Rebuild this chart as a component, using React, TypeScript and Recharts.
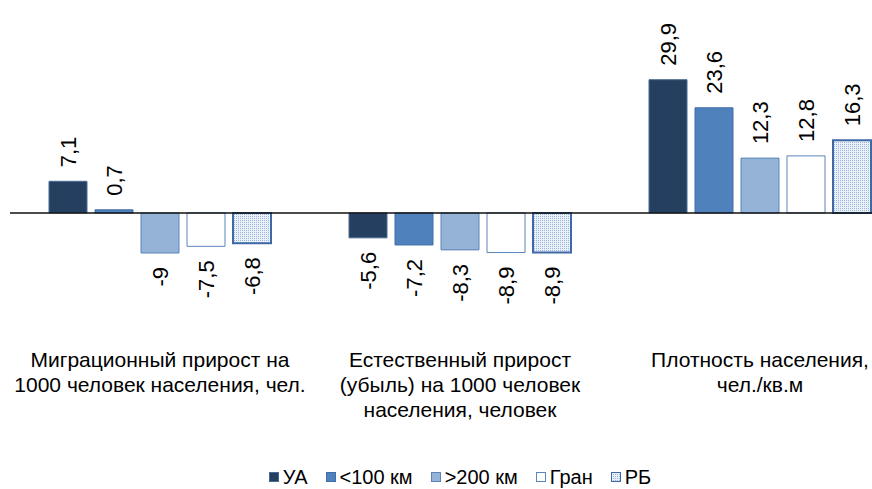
import React from 'react';
import { BarChart, Bar, XAxis, YAxis, ReferenceLine, Legend, LabelList } from 'recharts';

const categoryLines = [
  ['Миграционный прирост на', '1000 человек населения, чел.'],
  ['Естественный прирост', '(убыль) на 1000  человек', 'населения, человек'],
  ['Плотность населения,', 'чел./кв.м'],
];

const seriesNames = ['УА', '<100 км', '>200 км', 'Гран', 'РБ'];
const uaValues = [7.1, -5.6, 29.9];
const near100Values = [0.7, -7.2, 23.6];
const far200Values = [-9, -8.3, 12.3];
const granValues = [-7.5, -8.9, 12.8];
const rbValues = [-6.8, -8.9, 16.3];

const seriesValues = [uaValues, near100Values, far200Values, granValues, rbValues];
const seriesFill = ['#243F60', '#4F81BD', '#95B3D7', '#FFFFFF', 'url(#rbDots)'];
const seriesStroke = ['#4A6A93', '#3F6FAA', '#5B83BA', '#5B84BB', '#3E68A6'];
const seriesStrokeWidth = [1, 1, 1, 1, 2];

const FONT = '"Liberation Sans", Arial, sans-serif';

const data = categoryLines.map((lines, i) => {
  const row: Record<string, any> = { name: lines.join('|') };
  seriesNames.forEach((s, j) => {
    row['s' + j] = seriesValues[j][i];
  });
  return row;
});

const fmt = (v: number) => String(v).replace('.', ',');

const ValueLabel = (props: any) => {
  const { x, y, width, height, value } = props;
  const top = Math.min(y, y + height);
  const bottom = Math.max(y, y + height);
  const cx = x + width / 2 + 8;
  if (value >= 0) {
    const ly = top - 14;
    return (
      <text x={cx} y={ly} transform={`rotate(-90, ${cx}, ${ly})`} textAnchor="start"
        fontFamily={FONT} fontSize={22} fill="#000">{fmt(value)}</text>
    );
  }
  const ly = bottom + 14;
  return (
    <text x={cx} y={ly} transform={`rotate(-90, ${cx}, ${ly})`} textAnchor="end"
      fontFamily={FONT} fontSize={22} fill="#000">{fmt(value)}</text>
  );
};

const CategoryTick = (props: any) => {
  const { x, y, payload } = props;
  const lines = String(payload.value).split('|');
  return (
    <g>
      {lines.map((l, i) => (
        <text key={i} x={x} y={y + 65 + i * 25} textAnchor="middle"
          fontFamily={FONT} fontSize={21} fill="#000">{l}</text>
      ))}
    </g>
  );
};

const LegendBox = () => (
  <div style={{ display: 'flex', justifyContent: 'center', alignItems: 'center', height: 24,
    fontFamily: FONT, fontSize: 20, color: '#000' }}>
    {seriesNames.map((s, j) => (
      <div key={s} style={{ display: 'flex', alignItems: 'center', marginRight: j < 4 ? 18 : 0 }}>
        <svg width={10} height={10} style={{ marginRight: 4 }}>
          <rect x={0.5} y={0.5} width={9} height={9} fill={seriesFill[j]}
            stroke={seriesStroke[j]} strokeWidth={1} />
        </svg>
        <span>{s}</span>
      </div>
    ))}
  </div>
);

export default function App() {
  return (
    <div style={{ position: 'fixed', top: 0, left: 0, width: 872, height: 489, overflow: 'hidden', background: '#fff' }}>
      <BarChart width={920} height={489} data={data} barSize={38} barGap={8}
        margin={{ top: 57, right: 10, bottom: 0, left: 10 }}>
        <defs>
          <pattern id="rbDots" width={2} height={2} patternUnits="userSpaceOnUse">
            <rect width={2} height={2} fill="#EAF0F8" />
            <rect width={1} height={1} fill="#9DB5DA" />
          </pattern>
        </defs>
        <XAxis dataKey="name" axisLine={false} tickLine={false} tickSize={0} tickMargin={0}
          height={163} interval={0} tick={CategoryTick} />
        <YAxis hide domain={[-20, 35]} />
        {seriesNames.map((s, j) => (
          <Bar key={s} dataKey={'s' + j} name={s} fill={seriesFill[j]} stroke={seriesStroke[j]}
            strokeWidth={seriesStrokeWidth[j]} isAnimationActive={false}>
            <LabelList dataKey={'s' + j} content={ValueLabel} />
          </Bar>
        ))}
        <ReferenceLine y={0} stroke="#111" strokeWidth={1.5} />
        <Legend verticalAlign="bottom" content={LegendBox} />
      </BarChart>
    </div>
  );
}
